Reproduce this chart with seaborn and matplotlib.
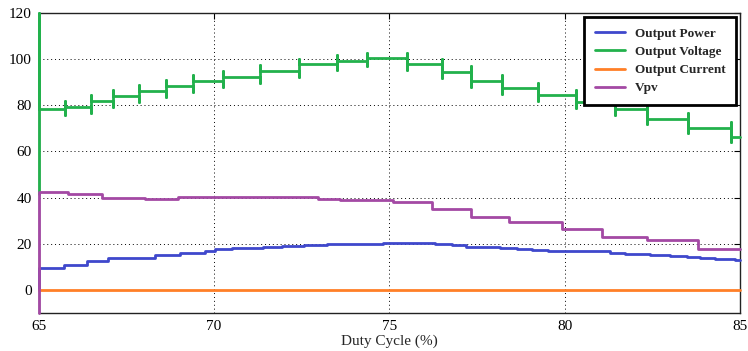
import matplotlib
matplotlib.use("Agg")
import matplotlib.pyplot as plt
import seaborn as sns
import pandas as pd

# duty cycle range (%)
duty_start, duty_end = 65, 85

# Output Power: step transitions (duty %) and levels (W)
power_steps = [65.72, 66.36, 66.96, 68.31, 69.02, 69.74, 70.02, 70.51, 70.96, 71.39,
               71.93, 72.56, 73.22, 74.81, 76.30, 76.78, 77.18, 78.15, 78.64, 79.07,
               79.52, 80.43, 81.29, 81.72, 82.43, 83.00, 83.49, 83.86, 84.29, 84.86]
power_levels = [9.7, 10.8, 12.6, 14.0, 15.2, 16.0, 17.0, 17.6, 18.0, 18.3,
                18.7, 19.0, 19.5, 19.8, 20.3, 19.8, 19.3, 18.7, 18.2, 17.7,
                17.3, 17.0, 16.7, 16.2, 15.8, 15.3, 14.8, 14.4, 14.0, 13.5, 12.9]
power_start = [0]

# Output Voltage
voltage_steps = [65.74, 66.48, 67.11, 67.85, 68.62, 69.39, 70.25, 71.31, 72.42, 73.50,
                 74.36, 75.50, 76.50, 77.33, 78.21, 79.24, 80.32, 81.43, 82.35, 83.52, 84.74]
voltage_levels = [78.4, 79.2, 81.8, 84.0, 86.1, 88.3, 90.5, 92.2, 94.8, 97.7, 99.4,
                  100.3, 97.7, 94.4, 90.5, 87.3, 84.3, 81.4, 78.2, 74.2, 70.3, 66.4]
voltage_start = [41.5, 120]
voltage_spike = 2.5

# Output Current
current_steps = []
current_levels = [0.0]
current_start = []

# Vpv
vpv_steps = [65.83, 66.79, 68.02, 68.97, 72.36, 72.96, 73.59, 75.10, 76.21, 77.33,
             78.41, 79.92, 81.06, 82.35, 83.80]
vpv_levels = [42.4, 41.4, 39.7, 39.3, 40.5, 40.2, 39.6, 38.9, 38.3, 35.0, 31.7,
              29.4, 26.4, 23.1, 21.6, 17.9]
vpv_start = [-10]


def step_trace(steps, levels, start, spike=0.0):
    xs = [duty_start] * len(start)
    ys = list(start)
    xs.append(duty_start)
    ys.append(levels[0])
    for t, old, new in zip(steps, levels[:-1], levels[1:]):
        xs.append(t); ys.append(old)
        if spike:
            xs += [t, t]
            ys += [min(old, new) - spike, max(old, new) + spike]
        xs.append(t); ys.append(new)
    xs.append(duty_end)
    ys.append(levels[-1])
    return pd.DataFrame({"Duty": xs, "Value": ys})


series = [
    ("Output Power", power_steps, power_levels, power_start, 0.0, "#3f48cc"),
    ("Output Voltage", voltage_steps, voltage_levels, voltage_start, voltage_spike, "#22b14c"),
    ("Output Current", current_steps, current_levels, current_start, 0.0, "#ff7f27"),
    ("Vpv", vpv_steps, vpv_levels, vpv_start, 0.0, "#a349a4"),
]

sns.set_style("white")
plt.rcParams["font.family"] = ["Liberation Serif", "DejaVu Serif"]

fig = plt.figure(figsize=(7.48, 3.51), dpi=100)
ax = fig.add_axes([0.052, 0.108, 0.937, 0.855])

for name, st, lv, s0, sp, col in series:
    df = step_trace(st, lv, s0, sp)
    sns.lineplot(data=df, x="Duty", y="Value", sort=False, estimator=None,
                 color=col, linewidth=2, label=name, ax=ax)

# let the traces sit on top of the frame like the original export
for line in ax.get_lines():
    line.set_clip_on(False)
    line.set_zorder(3)

ax.set_xlim(65, 85)
ax.set_ylim(-10, 120)
ax.set_xticks([65, 70, 75, 80, 85])
ax.set_yticks([0, 20, 40, 60, 80, 100, 120])
ax.set_xlabel("Duty Cycle (%)", fontsize=11, labelpad=1)
ax.set_ylabel("")
ax.tick_params(direction="in", top=True, right=True, length=4, width=0.8,
               labelsize=11, colors="black", pad=5)
ax.grid(True, linestyle=(0, (1, 3)), color="black", linewidth=0.7)
for sp in ax.spines.values():
    sp.set_visible(True)
    sp.set_color("#222222")
    sp.set_linewidth(1.0)

leg = ax.legend(loc="upper right", bbox_to_anchor=(0.999, 0.995), fancybox=False,
                framealpha=1, edgecolor="black", handlelength=2.3, handletextpad=0.75,
                labelspacing=0.45, borderpad=0.8, borderaxespad=0.2,
                prop={"weight": "bold", "size": 9.5})
leg.get_frame().set_linewidth(2)
leg.set_zorder(5)

fig.savefig("out.png", dpi=100)
